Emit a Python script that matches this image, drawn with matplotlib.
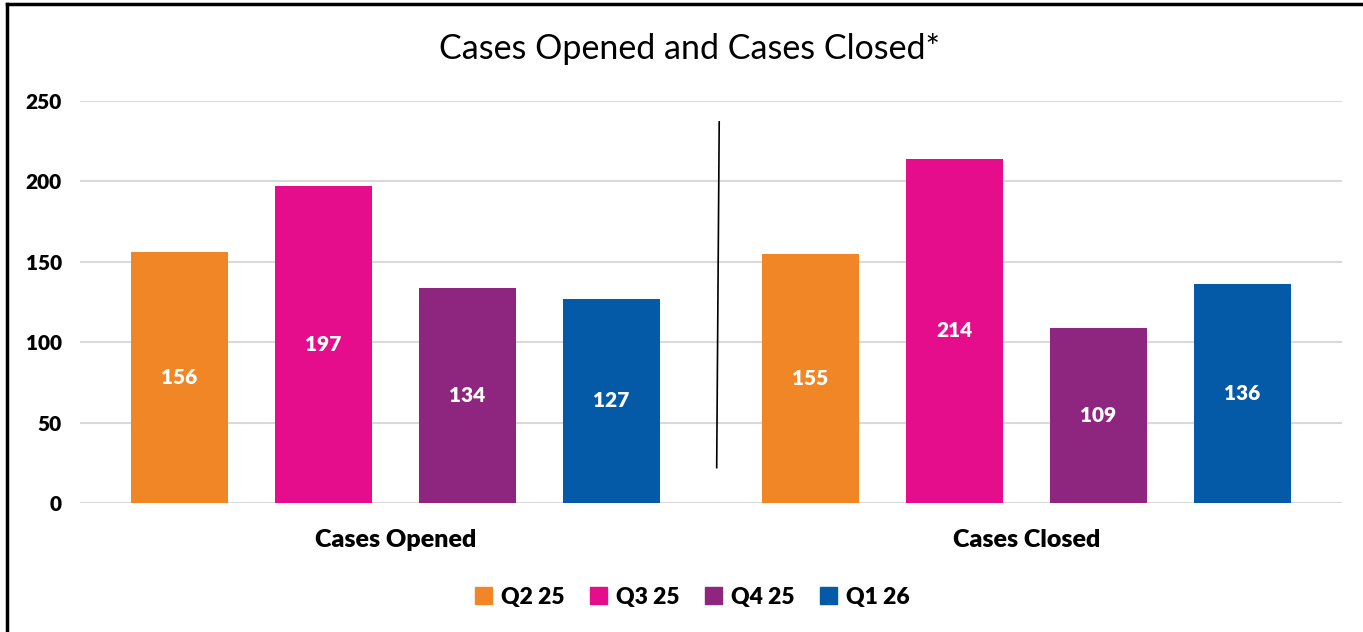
import matplotlib.pyplot as plt
import numpy as np
from matplotlib.lines import Line2D

categories = ["Cases Opened", "Cases Closed"]
quarters = ["Q2 25", "Q3 25", "Q4 25", "Q1 26"]
q2_25 = [156, 155]
q3_25 = [197, 214]
q4_25 = [134, 109]
q1_26 = [127, 136]
series = [q2_25, q3_25, q4_25, q1_26]
colors = ["#F18626", "#E60D8C", "#8E2680", "#045AA6"]

plt.rcParams['font.family'] = ['Lato', 'DejaVu Sans']

fig = plt.figure(figsize=(13.63, 6.32), dpi=100)
ax = fig.add_axes([0.0587, 0.2041, 0.9259, 0.6361])

x = np.arange(len(categories))
step = 0.2282
width = 0.1537
for i, (vals, col, lab) in enumerate(zip(series, colors, quarters)):
    pos = x + (i - 1.5) * step
    bars = ax.bar(pos, vals, width=width, color=col, label=lab, zorder=3)
    for b, v in zip(bars, vals):
        ax.text(b.get_x() + b.get_width() / 2, v / 2, str(v), ha="center",
                va="center", color="white", fontsize=15, fontweight="heavy",
                zorder=4)

ax.set_xlim(-0.5, 1.5)
ax.set_ylim(0, 250)
ax.set_yticks(range(0, 251, 50))
ax.grid(axis="y", color="#D9D9D9", linewidth=1.5, zorder=0)
for s in ax.spines.values():
    s.set_visible(False)
ax.tick_params(axis="both", length=0)
ax.tick_params(axis="y", pad=13)
ax.tick_params(axis="x", pad=19)
ax.set_xticks(x)
ax.set_xticklabels(categories, fontsize=18, fontweight="heavy")
for t in ax.get_yticklabels():
    t.set_fontsize(15)
    t.set_fontweight("heavy")

# divider between the two groups
ax.plot([0.513, 0.509], [237, 22], color="black", linewidth=1.2, zorder=5)

fig.text(0.506, 0.922, "Cases Opened and Cases Closed*", ha="center",
         va="center", fontsize=24.5)

handles = [plt.Rectangle((0, 0), 1, 1, color=c) for c in colors]
fig.legend(handles, quarters, loc="center", bbox_to_anchor=(0.508, 0.055),
           ncol=4, frameon=False, prop={"size": 16.5, "weight": "heavy"},
           handlelength=0.75, handleheight=0.75, columnspacing=1.1,
           handletextpad=0.4)

# outer frame (top and left edges visible in the crop)
fig.add_artist(Line2D([0.0055, 1.0], [0.9937, 0.9937], color="black",
                      linewidth=2.5, transform=fig.transFigure))
fig.add_artist(Line2D([0.0055, 0.0055], [0.0, 0.9937], color="black",
                      linewidth=2.5, transform=fig.transFigure))

fig.savefig("out.png", dpi=100)
